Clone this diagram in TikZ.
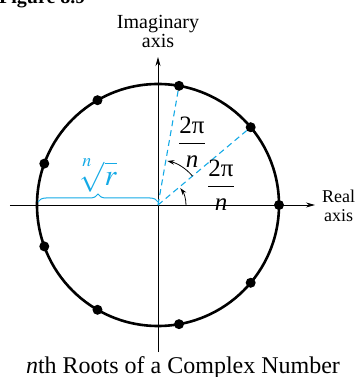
\documentclass[tikz,border=0pt]{standalone}
\usepackage{mathptmx}
\usepackage{amsmath}
\usepackage[no-math]{fontspec}
\setmainfont{Liberation Serif}
\usetikzlibrary{arrows.meta,positioning,calc,decorations.pathreplacing}
\definecolor{rootblue}{RGB}{20,170,230}

\begin{document}
\begin{tikzpicture}[x=1pt,y=1pt,
  >={Stealth[length=9pt,width=5pt]},
  every node/.style={font=\fontsize{18}{18.5}\selectfont,align=center},
  axis/.style={->,line width=0.8pt},
  axislabel/.style={inner sep=0pt},
  ring/.style={line width=2.6pt},
  root/.style={circle,fill=black,inner sep=0pt,minimum size=10pt},
  ray/.style={rootblue,dash pattern=on 6pt off 4pt,line width=1.1pt},
  turn/.style={->,line width=0.8pt,>={Stealth[length=7pt,width=4.5pt]}},
  frac/.style={font=\fontsize{25}{27}\selectfont,inner sep=0pt},
  span/.style={rootblue,line width=1pt,decorate,
    decoration={brace,amplitude=8pt}},
  caption/.style={font=\fontsize{24}{26}\selectfont,inner sep=0pt}]
  \useasboundingbox (-158,-172) rectangle (199,205);
  \coordinate (O) at (0,0);
  \coordinate (west) at (-148,0);
  \coordinate (east) at (157,0);
  \coordinate (south) at (0,-147);
  \coordinate (north) at (0,148);
  \coordinate (rim) at (180:121pt);

  \draw[axis] (west) -- (east);
  \draw[axis] (south) -- (north);
  \draw[ring] (O) circle (121pt);
  \foreach \k in {0,...,8}
    \node[root] (r\k) at (40*\k:121pt) {};
  \draw[ray] (O) -- (r1);
  \draw[ray] (O) -- (r2);
  \draw[turn] (28pt,0) arc (0:37:28pt);
  \draw[turn] (40:45pt) arc (40:78:45pt);

  \node[frac] (upper) at (34,63)
    {$\displaystyle\frac{\mbox{2π}}{\mbox{\itshape n}}$};
  \node[frac] (lower) at (63,20)
    {$\displaystyle\frac{\mbox{2π}}{\mbox{\itshape n}}$};
  \draw[span] ($(rim)+(1,3)$) -- ($(O)+(0,3)$)
    node[midway,above=9pt,rootblue,font=\fontsize{30}{32}\selectfont,
      inner sep=0pt] (radius) {$\sqrt[\leftroot{3}\uproot{5}n]{r}$};

  \node[axislabel,above=9pt of north,
    font=\fontsize{20}{19}\selectfont] (imag) {Imaginary\\axis};
  \node[axislabel,right=7pt of east,yshift=-1pt] (real) {Real\\axis};
  \node[caption,anchor=base] (title) at (25,-168)
    {\textit{n}th Roots of a Complex Number};
  \node[anchor=base west,inner sep=0pt,
    font=\bfseries\fontsize{20}{22}\selectfont] (fig) at (-159,201)
    {Figure 8.9};
\end{tikzpicture}
\end{document}
